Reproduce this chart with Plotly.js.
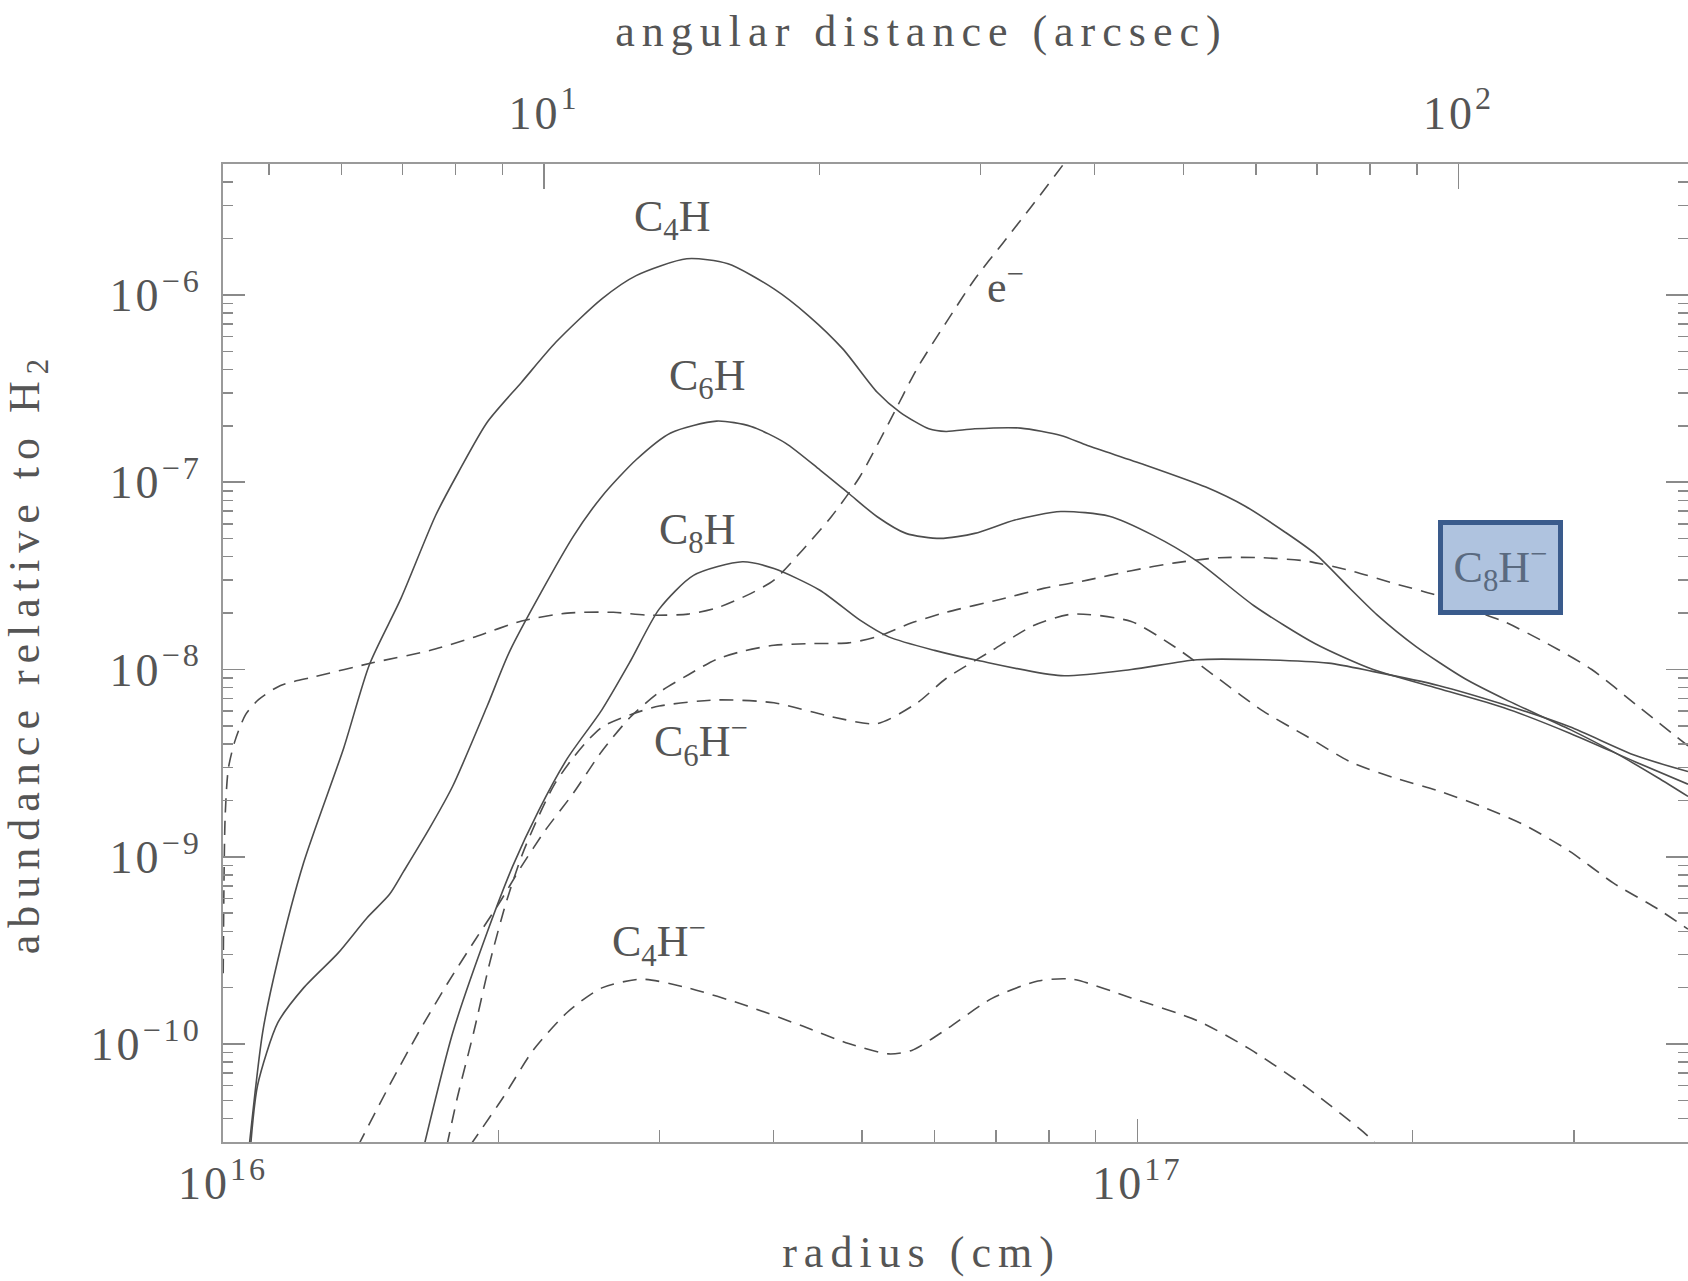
<!DOCTYPE html>
<html>
<head>
<meta charset="utf-8">
<script src="https://cdn.plot.ly/plotly-3.0.1.min.js"></script>
<style>
html, body { margin: 0; padding: 0; background: #ffffff; overflow: hidden; }
#chart { width: 1688px; height: 1281px; }
.xtitle, .x2title, .ytitle { letter-spacing: 7px; }
.xtitle, .x2title { transform: translate(-34px, 0px); }
.xtick text, .x2tick text, .ytick text { letter-spacing: 3px; }
</style>
</head>
<body>
<div id="chart"></div>
<script>
// ---------- data (radius in cm, abundance relative to H2) ----------
const radiusC4H = [1.067e16, 1.105e16, 1.148e16, 1.225e16, 1.355e16, 1.446e16, 1.565e16, 1.708e16, 1.809e16, 1.945e16,
  2.121e16, 2.313e16, 2.596e16, 2.830e16, 3.215e16, 3.566e16, 4.004e16, 4.366e16, 4.762e16, 5.193e16,
  5.502e16, 5.914e16, 6.176e16, 6.638e16, 7.451e16, 8.247e16, 8.816e16, 1.0175e17, 1.188e17, 1.312e17,
  1.448e17, 1.565e17, 1.710e17, 1.827e17, 2.017e17, 2.279e17, 2.544e17, 2.970e17, 3.316e17, 3.704e17, 4.0e17];
const abundC4H = [2.70e-11, 1.156e-10, 2.81e-10, 9.29e-10, 3.80e-9, 1.064e-8, 2.39e-8, 6.64e-8, 1.130e-7, 2.09e-7,
  3.42e-7, 5.60e-7, 9.53e-7, 1.268e-6, 1.559e-6, 1.466e-6, 1.077e-6, 7.76e-7, 5.15e-7, 3.02e-7,
  2.36e-7, 1.928e-7, 1.866e-7, 1.928e-7, 1.945e-7, 1.775e-7, 1.570e-7, 1.241e-7, 9.42e-8, 7.44e-8,
  5.44e-8, 4.14e-8, 2.69e-8, 1.963e-8, 1.325e-8, 8.95e-9, 6.80e-9, 4.79e-9, 3.63e-9, 2.65e-9, 2.10e-9];

const radiusC6H = [1.072e16, 1.091e16, 1.148e16, 1.225e16, 1.336e16, 1.436e16, 1.521e16, 1.577e16, 1.683e16, 1.783e16,
  1.945e16, 2.060e16, 2.415e16, 2.596e16, 2.830e16, 3.087e16, 3.466e16, 3.780e16,
  4.122e16, 4.495e16, 4.831e16, 5.193e16, 5.583e16, 6.088e16, 6.638e16, 7.345e16, 8.247e16, 9.316e16,
  1.0404e17, 1.1618e17, 1.341e17, 1.565e17, 1.807e17, 2.133e17, 2.516e17, 2.970e17, 3.505e17, 4.0e17];
const abundC6H = [2.86e-11, 6.03e-11, 1.300e-10, 1.995e-10, 3.06e-10, 4.70e-10, 6.30e-10, 8.40e-10, 1.426e-9, 2.38e-9,
  6.38e-9, 1.262e-8, 5.12e-8, 8.39e-8, 1.318e-7, 1.832e-7, 2.12e-7, 1.986e-7,
  1.618e-7, 1.164e-7, 8.73e-8, 6.54e-8, 5.33e-8, 5.01e-8, 5.33e-8, 6.28e-8, 6.97e-8, 6.58e-8,
  5.20e-8, 3.79e-8, 2.19e-8, 1.371e-8, 1.002e-8, 7.91e-9, 6.25e-9, 4.57e-9, 3.21e-9, 2.44e-9];

const radiusC8H = [1.659e16, 1.783e16, 1.945e16, 2.074e16, 2.214e16, 2.380e16, 2.596e16, 2.790e16, 2.999e16, 3.270e16,
  3.698e16, 4.004e16, 4.495e16, 4.973e16, 5.346e16, 5.999e16, 6.736e16, 8.247e16, 9.845e16, 1.1618e17,
  1.371e17, 1.618e17, 1.807e17, 2.133e17, 2.516e17, 2.970e17, 3.505e17, 4.0e17];
const abundC8H = [2.86e-11, 1.146e-10, 3.95e-10, 8.91e-10, 1.766e-9, 3.35e-9, 6.09e-9, 1.110e-8, 2.10e-8, 3.18e-8,
  3.76e-8, 3.46e-8, 2.65e-8, 1.833e-8, 1.493e-8, 1.265e-8, 1.110e-8, 9.27e-9, 1.000e-8, 1.127e-8,
  1.127e-8, 1.081e-8, 9.77e-9, 8.22e-9, 6.50e-9, 4.94e-9, 3.47e-9, 2.85e-9];

const radiusElec = [1.0005e16, 1.0054e16, 1.0136e16, 1.030e16, 1.0585e16, 1.0935e16, 1.156e16, 1.2606e16, 1.457e16, 1.683e16,
  1.889e16, 2.121e16, 2.380e16, 2.672e16, 2.914e16, 3.225e16, 3.466e16, 3.780e16, 4.004e16, 4.304e16,
  4.626e16, 4.973e16, 5.346e16, 5.744e16, 6.176e16, 6.638e16, 7.135e16, 7.672e16, 8.307e16, 8.571e16];
const abundElec = [2.39e-10, 1.633e-9, 2.96e-9, 4.12e-9, 5.74e-9, 6.90e-9, 8.22e-9, 9.16e-9, 1.086e-8, 1.262e-8,
  1.497e-8, 1.815e-8, 2.00e-8, 2.02e-8, 1.950e-8, 1.976e-8, 2.13e-8, 2.55e-8, 3.00e-8, 4.35e-8,
  6.54e-8, 1.072e-7, 2.07e-7, 4.06e-7, 7.11e-7, 1.213e-6, 1.906e-6, 3.00e-6, 5.01e-6, 6.12e-6];

const radiusC8Hm = [1.405e16, 1.521e16, 1.635e16, 1.757e16, 1.889e16, 2.001e16, 2.121e16, 2.247e16, 2.415e16, 2.596e16,
  2.790e16, 2.999e16, 3.225e16, 3.466e16, 3.725e16, 4.004e16, 4.366e16, 4.831e16, 5.193e16, 5.665e16,
  6.176e16, 7.089e16, 7.893e16, 8.816e16, 9.845e16, 1.099e17, 1.228e17, 1.371e17, 1.531e17, 1.710e17,
  1.909e17, 2.133e17, 2.253e17, 2.516e17, 2.810e17, 3.139e17, 3.505e17, 4.0e17];
const abundC8Hm = [2.86e-11, 6.03e-11, 1.146e-10, 2.08e-10, 3.63e-10, 5.57e-10, 8.91e-10, 1.367e-9, 2.18e-9, 3.66e-9,
  5.58e-9, 7.55e-9, 9.35e-9, 1.134e-8, 1.262e-8, 1.346e-8, 1.375e-8, 1.387e-8, 1.497e-8, 1.775e-8,
  2.02e-8, 2.37e-8, 2.71e-8, 3.00e-8, 3.37e-8, 3.71e-8, 3.95e-8, 3.95e-8, 3.79e-8, 3.37e-8,
  2.88e-8, 2.47e-8, 2.19e-8, 1.803e-8, 1.371e-8, 1.000e-8, 6.52e-9, 3.91e-9];

const radiusC6Hm = [1.757e16, 1.805e16, 1.880e16, 1.958e16, 2.039e16, 2.124e16, 2.212e16, 2.303e16, 2.399e16, 2.498e16,
  2.602e16, 2.790e16, 2.999e16, 3.466e16, 4.004e16, 4.626e16, 5.193e16, 5.744e16, 6.176e16, 6.933e16,
  7.672e16, 8.486e16, 9.845e16, 1.099e17, 1.228e17, 1.371e17, 1.531e17, 1.710e17, 1.909e17, 2.133e17,
  2.381e17, 2.659e17, 2.970e17, 3.316e17, 3.704e17, 4.0e17];
const abundC6Hm = [2.86e-11, 5.23e-11, 1.156e-10, 2.73e-10, 5.66e-10, 1.026e-9, 1.633e-9, 2.43e-9, 3.24e-9, 4.12e-9,
  4.96e-9, 5.74e-9, 6.38e-9, 6.88e-9, 6.64e-9, 5.60e-9, 5.14e-9, 6.64e-9, 8.95e-9, 1.262e-8,
  1.703e-8, 1.976e-8, 1.803e-8, 1.318e-8, 8.89e-9, 6.01e-9, 4.40e-9, 3.21e-9, 2.64e-9, 2.25e-9,
  1.853e-9, 1.465e-9, 1.069e-9, 7.23e-10, 5.28e-10, 4.11e-10];

const radiusC4Hm = [1.862e16, 2.031e16, 2.183e16, 2.380e16, 2.596e16, 2.871e16, 3.225e16, 3.725e16, 4.304e16, 4.831e16,
  5.346e16, 5.665e16, 6.176e16, 6.933e16, 7.782e16, 8.486e16, 9.845e16, 1.1618e17, 1.326e17, 1.531e17,
  1.767e17, 1.827e17];
const abundC4Hm = [2.86e-11, 5.31e-11, 9.25e-11, 1.479e-10, 1.995e-10, 2.22e-10, 1.995e-10, 1.611e-10, 1.247e-10, 1.007e-10,
  8.86e-11, 9.25e-11, 1.196e-10, 1.754e-10, 2.17e-10, 2.22e-10, 1.762e-10, 1.337e-10, 9.42e-11, 5.87e-11,
  3.39e-11, 2.90e-11];

// ---------- axes ----------
const radiusRange = [1e16, 4e17];
const abundRange = [3e-11, 5e-6];
const cmPerArcsec = 2.245e15;

const radiusTickVals = [1e16, 1e17];
const radiusTickText = ['10<sup>16</sup>', '10<sup>17</sup>'];
const radiusMinorVals = [2e16, 3e16, 4e16, 5e16, 6e16, 7e16, 8e16, 9e16, 2e17, 3e17];

const arcsecTickVals = [10, 100];
const arcsecTickText = ['10<sup>1</sup>', '10<sup>2</sup>'];
const arcsecMinorVals = [5, 6, 7, 8, 9, 20, 30, 40, 50, 60, 70, 80, 90];

const abundTickVals = [1e-10, 1e-9, 1e-8, 1e-7, 1e-6];
const abundTickText = ['10<sup>\u221210</sup>', '10<sup>\u22129</sup>', '10<sup>\u22128</sup>', '10<sup>\u22127</sup>', '10<sup>\u22126</sup>'];
const abundMinorVals = [];
for (let e = -11; e <= -6; e++) {
  for (let m = 2; m <= 9; m++) {
    const v = m * Math.pow(10, e);
    if (v >= abundRange[0] * 0.999 && v <= abundRange[1] * 1.001) abundMinorVals.push(v);
  }
}

// ---------- labels ----------
const labelTexts = ['C<sub>4</sub>H', 'C<sub>6</sub>H', 'C<sub>8</sub>H', 'e<sup>\u2212</sup>', 'C<sub>6</sub>H<sup>\u2212</sup>', 'C<sub>4</sub>H<sup>\u2212</sup>'];
const labelRadius = [3.10e16, 3.39e16, 3.30e16, 7.18e16, 3.33e16, 3.00e16];
const labelAbund = [2.52e-6, 3.57e-7, 5.38e-8, 1.13e-6, 4.08e-9, 3.52e-10];
const boxLabel = 'C<sub>8</sub>H<sup>\u2212</sup>';
const boxRadius = 2.497e17;
const boxAbund = 3.52e-8;

// ---------- styles ----------
const ink = '#4d4d4d';
const textColor = '#555555';
const frameColor = '#9a9a9a';
const tickColor = '#8a8a8a';
const serif = '"Liberation Serif", "Times New Roman", serif';

function solidTrace(x, y, name) {
  return { x: x, y: y, name: name, type: 'scatter', mode: 'lines', hoverinfo: 'skip',
    line: { color: ink, width: 1.6, shape: 'spline', smoothing: 0.7 } };
}
function dashedTrace(x, y, name) {
  return { x: x, y: y, name: name, type: 'scatter', mode: 'lines', hoverinfo: 'skip',
    line: { color: ink, width: 1.6, dash: '14px,9px', shape: 'spline', smoothing: 0.7 } };
}

const traces = [
  solidTrace(radiusC4H, abundC4H, 'C4H'),
  solidTrace(radiusC6H, abundC6H, 'C6H'),
  solidTrace(radiusC8H, abundC8H, 'C8H'),
  dashedTrace(radiusElec, abundElec, 'e-'),
  dashedTrace(radiusC8Hm, abundC8Hm, 'C8H-'),
  dashedTrace(radiusC6Hm, abundC6Hm, 'C6H-'),
  dashedTrace(radiusC4Hm, abundC4Hm, 'C4H-'),
  { x: [], y: [], xaxis: 'x2', yaxis: 'y', type: 'scatter', mode: 'lines', showlegend: false, hoverinfo: 'skip' }
];

const tickFont = { family: serif, size: 46, color: textColor };
const titleFont = { family: serif, size: 44, color: textColor };

const annotations = labelTexts.map(function (t, i) {
  return { text: t, x: Math.log10(labelRadius[i]), y: Math.log10(labelAbund[i]), xref: 'x', yref: 'y',
    showarrow: false, font: { family: serif, size: 44, color: textColor } };
});
annotations.push({ text: boxLabel, x: Math.log10(boxRadius), y: Math.log10(boxAbund), xref: 'x', yref: 'y',
  showarrow: false, font: { family: serif, size: 44, color: '#5a6a80' },
  bgcolor: '#afc3df', bordercolor: '#3a5b8c', borderwidth: 5, borderpad: 1, width: 113, height: 83 });

const layout = {
  width: 1688, height: 1281,
  margin: { l: 223, r: 0, t: 164, b: 139, pad: 0 },
  paper_bgcolor: '#ffffff', plot_bgcolor: '#ffffff',
  showlegend: false,
  xaxis: {
    type: 'log', range: [Math.log10(radiusRange[0]), Math.log10(radiusRange[1])],
    tickmode: 'array', tickvals: radiusTickVals, ticktext: radiusTickText,
    ticks: 'inside', ticklen: 23, tickwidth: 1.5, tickcolor: tickColor,
    minor: { tickmode: 'array', tickvals: radiusMinorVals, ticks: 'inside', ticklen: 12, tickwidth: 1.5, tickcolor: tickColor, showgrid: false },
    showline: true, linecolor: frameColor, linewidth: 2, mirror: false,
    showgrid: false, zeroline: false, tickfont: tickFont, ticklabelstandoff: 0,
    title: { text: 'radius (cm)', font: titleFont, standoff: 28 },
    automargin: false
  },
  xaxis2: {
    type: 'log', overlaying: 'x', side: 'top', anchor: 'y',
    range: [Math.log10(radiusRange[0] / cmPerArcsec), Math.log10(radiusRange[1] / cmPerArcsec)],
    tickmode: 'array', tickvals: arcsecTickVals, ticktext: arcsecTickText,
    ticks: 'inside', ticklen: 25, tickwidth: 1.5, tickcolor: tickColor,
    minor: { tickmode: 'array', tickvals: arcsecMinorVals, ticks: 'inside', ticklen: 11, tickwidth: 1.5, tickcolor: tickColor, showgrid: false },
    showline: true, linecolor: frameColor, linewidth: 2,
    showgrid: false, zeroline: false, tickfont: tickFont, ticklabelstandoff: 15,
    title: { text: 'angular distance (arcsec)', font: titleFont, standoff: 20 },
    automargin: false
  },
  yaxis: {
    type: 'log', range: [Math.log10(abundRange[0]), Math.log10(abundRange[1])],
    tickmode: 'array', tickvals: abundTickVals, ticktext: abundTickText,
    ticks: 'inside', ticklen: 22, tickwidth: 1.5, tickcolor: tickColor,
    minor: { tickmode: 'array', tickvals: abundMinorVals, ticks: 'inside', ticklen: 10, tickwidth: 1.5, tickcolor: tickColor, showgrid: false },
    showline: true, linecolor: frameColor, linewidth: 2, mirror: 'ticks',
    showgrid: false, zeroline: false, tickfont: tickFont, ticklabelstandoff: 10,
    title: { text: 'abundance relative to H<sub>2</sub>', font: titleFont, standoff: 37 },
    automargin: false
  },
  annotations: annotations
};

Plotly.newPlot('chart', traces, layout, { staticPlot: true, displayModeBar: false });
</script>
</body>
</html>
